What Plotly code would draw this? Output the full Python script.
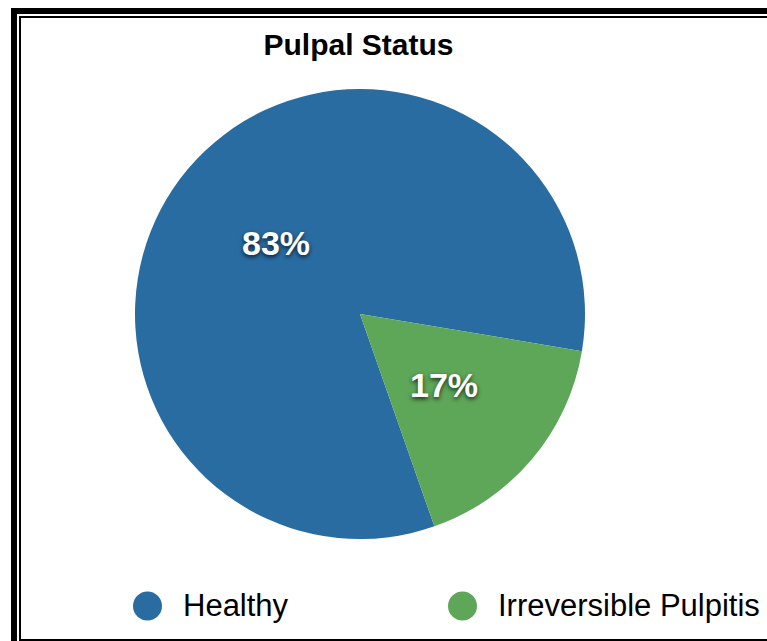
import math
import plotly.graph_objects as go

labels = ["Healthy", "Irreversible Pulpitis"]
values = [83, 17]
colors = ["#296ca2", "#5ea658"]
title_text = "Pulpal Status"

W, H = 767, 641

def px(x):
    return x / W

def py(y):
    return 1 - y / H

start_angle = 160.7
dom_x = [px(135), px(585)]
dom_y = [py(539), py(89)]

fig = go.Figure()

fig.add_trace(go.Pie(
    labels=labels,
    values=values,
    sort=False,
    direction="clockwise",
    rotation=start_angle,
    marker=dict(colors=colors, line=dict(width=0)),
    textposition="none",
    domain=dict(x=dom_x, y=dom_y),
    showlegend=False,
    hoverinfo="label+percent",
))

# percent labels placed at each slice's mid-angle (derived from values)
total = sum(values)
cx = (dom_x[0] + dom_x[1]) / 2 * W
cy = (1 - (dom_y[0] + dom_y[1]) / 2) * H
R = min((dom_x[1] - dom_x[0]) * W, (dom_y[1] - dom_y[0]) * H) / 2
annotations = []
acc = 0.0
for v in values:
    mid = math.radians(start_angle + (acc + v / 2) / total * 360)
    acc += v
    tx = cx + 0.49 * R * math.sin(mid)
    ty = cy - 0.49 * R * math.cos(mid)
    annotations.append(dict(
        x=px(tx), y=py(ty), xref="paper", yref="paper",
        text="%d%%" % round(v / total * 100), showarrow=False,
        xanchor="center", yanchor="middle",
        font=dict(family="Liberation Sans, Arial, sans-serif", size=34, color="white",
                  weight="bold", shadow="0px 2px 4px rgba(0,0,0,0.75)"),
    ))

# custom legend with large circle markers
leg_x = [0, 1]
fig.add_trace(go.Scatter(
    x=leg_x, y=[0, 0],
    mode="markers",
    marker=dict(size=29, color=colors, symbol="circle"),
    showlegend=False,
    hoverinfo="skip",
    xaxis="x", yaxis="y",
))

for i, lab in enumerate(labels):
    annotations.append(dict(
        x=leg_x[i], y=0, xref="x", yref="y",
        text=lab, showarrow=False, xanchor="left", yanchor="middle",
        xshift=33,
        font=dict(family="Liberation Sans, Arial, sans-serif", size=31, color="#000000"),
    ))

# frame lines
shapes = []
def rect(x0, y0, x1, y1):
    shapes.append(dict(type="rect", xref="paper", yref="paper",
                       x0=px(x0), x1=px(x1), y0=py(y1), y1=py(y0),
                       fillcolor="black", line=dict(width=0), layer="above"))
rect(11, 8, 770, 14)     # outer top
rect(11, 8, 17, 645)     # outer left
rect(19, 16, 770, 18)    # inner top
rect(19, 16, 21, 645)    # inner left
rect(19, 639, 770, 642)  # inner bottom

scale = 315.0
fig.update_layout(
    width=W, height=H,
    margin=dict(l=0, r=0, t=0, b=0),
    paper_bgcolor="white", plot_bgcolor="white",
    title=dict(text="<b>" + title_text + "</b>", x=px(358.5), y=py(44), xanchor="center",
               yanchor="middle", xref="paper", yref="container",
               font=dict(family="Liberation Sans, Arial, sans-serif", size=30, color="#000000")),
    xaxis=dict(domain=[0, 1], range=[-147.5 / scale, (W - 147.5) / scale], visible=False, fixedrange=True),
    yaxis=dict(domain=[py(606) - 0.05, py(606) + 0.05], range=[-1, 1], visible=False, fixedrange=True),
    annotations=annotations,
    shapes=shapes,
    showlegend=False,
)

fig.write_html("out.html", config={"displayModeBar": False},
               post_script="document.body.style.margin='0';document.body.style.overflow='hidden';")
